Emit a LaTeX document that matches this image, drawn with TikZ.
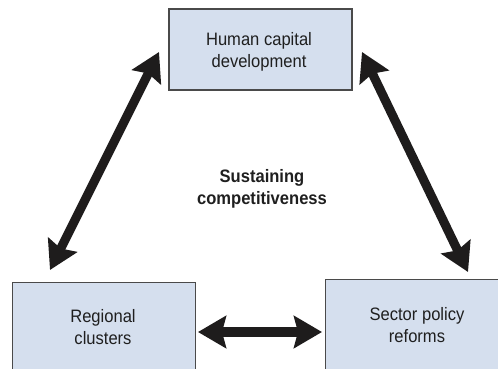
\documentclass[tikz,border=0pt]{standalone}
\usepackage{fontspec}
\setmainfont{Liberation Sans}[FakeStretch=0.92]
\usetikzlibrary{arrows.meta}
\definecolor{boxfill}{HTML}{D5DFEE}
\definecolor{boxline}{HTML}{4A4A4A}
\definecolor{arrowink}{HTML}{1E1C1C}
\begin{document}
\begin{tikzpicture}[x=0.75pt,y=-0.75pt,
  block/.style={draw=boxline,line width=0.9pt,fill=boxfill,inner sep=0pt},
  label/.style={align=center,font=\fontsize{13.5pt}{16.5pt}\selectfont,text=black!88},
  hub/.style={align=center,font=\fontsize{13.5pt}{16pt}\selectfont\bfseries,text=black!88},
  link/.style={draw=arrowink,line width=6.8pt,
    {Stealth[length=21pt,width=24pt,inset=3pt]}-{Stealth[length=21pt,width=24pt,inset=3pt]}}]
\useasboundingbox (0,0) rectangle (498,368);
\clip (0,0) rectangle (498,368);
% boxes
\node[block,minimum width=183*0.75pt,minimum height=81*0.75pt] (hc) at (260.5,49.5) {};
\node[block,minimum width=183*0.75pt,minimum height=100*0.75pt,anchor=north west] (rc) at (12,282) {};
\node[block,minimum width=190*0.75pt,minimum height=100*0.75pt,anchor=north west] (sp) at (325,279) {};
% labels
\node[label] (hct) at (259,52) {Human capital\\development};
\node[label] (rct) at (103,327) {Regional\\clusters};
\node[label] (spt) at (417,325) {Sector policy\\reforms};
\node[hub] (core) at (262,189) {Sustaining\\competitiveness};
% arrow end points
\coordinate (l1) at (159,52);
\coordinate (l2) at (50,270);
\coordinate (r1) at (362,52);
\coordinate (r2) at (468,272);
\coordinate (h1) at (198,332);
\coordinate (h2) at (322,332);
\draw[link] (l1) -- (l2);
\draw[link] (r1) -- (r2);
\draw[link] (h1) -- (h2);
\end{tikzpicture}
\end{document}
